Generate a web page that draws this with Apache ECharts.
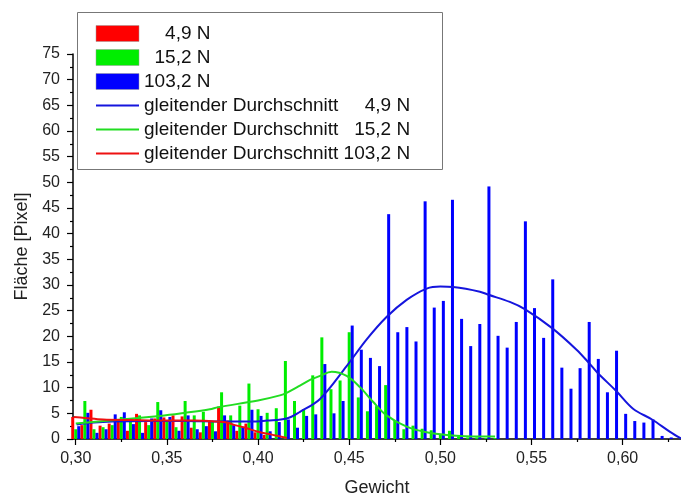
<!DOCTYPE html>
<html><head><meta charset="utf-8">
<script src="https://cdn.jsdelivr.net/npm/echarts@6/dist/echarts.min.js"></script>
<style>html,body{margin:0;padding:0;background:#fff}#c{width:681px;height:502px}</style>
</head><body><div id="c"></div>
<script>
// Bin centres (Gewicht)
const bins = [0.300,0.305,0.310,0.315,0.320,0.325,0.330,0.335,0.340,0.345,
  0.350,0.355,0.360,0.365,0.370,0.375,0.380,0.385,0.390,0.395,
  0.400,0.405,0.410,0.415,0.420,0.425,0.430,0.435,0.440,0.445,
  0.450,0.455,0.460,0.465,0.470,0.475,0.480,0.485,0.490,0.495,
  0.500,0.505,0.510,0.515,0.520,0.525,0.530,0.535,0.540,0.545,
  0.550,0.555,0.560,0.565,0.570,0.575,0.580,0.585,0.590,0.595,
  0.600,0.605,0.610,0.615,0.620,0.625];
// Fläche values per series (null = no bar)
const red49 = [4.3,2.7,5.7,2.6,3.0,3.6,1.6,4.9,3.3,4.0,
  4.2,4.6,4.4,2.2,1.3,3.3,6.3,3.6,1.6,3.0,
  1.3,0.8];
const green152 = [1.9,7.4,1.9,2.3,2.7,4.3,4.0,4.6,2.7,7.2,
  3.6,2.3,7.4,4.6,5.3,3.3,9.1,4.6,6.5,10.8,
  5.8,5.1,6.0,15.2,7.4,5.8,12.4,19.8,9.7,11.4,
  20.8,8.1,5.4,6.4,10.5,3.6,1.9,2.6,2.0,1.7,
  0.8,1.6,0.5,0.3,0.3,0.2,0.2];
const blue1032 = [2.5,5.1,1.2,1.9,4.8,5.2,2.9,1.2,4.0,5.6,
  4.3,1.6,4.6,1.9,2.5,1.5,4.6,2.7,2.4,5.7,
  4.5,1.5,3.3,3.8,2.2,4.5,4.8,14.6,5.0,7.4,
  22.1,17.4,15.8,14.2,43.8,20.8,21.8,19.0,46.3,25.6,
  26.9,46.6,23.4,18.1,22.4,49.2,20.1,17.8,22.8,42.4,
  25.5,19.7,31.1,13.9,9.8,13.8,22.8,15.6,9.1,17.2,
  4.9,3.5,3.2,3.8,0.6,0.3];
// Moving averages
const avgBlueX = [0.3005,0.310,0.320,0.340,0.360,0.380,0.395,0.405,0.4157,0.423,0.434,0.4486,0.4596,0.4706,0.4815,0.4925,0.500,0.507,0.5217,0.5264,0.5381,0.5463,0.5613,0.5747,0.5813,0.5862,0.5966,0.6057,0.6161,0.626,0.632];
const avgBlueY = [2.8,3.2,3.4,3.5,3.5,3.4,3.4,3.6,4.0,5.3,7.8,14.2,19.4,23.8,27.1,29.3,29.7,29.6,28.7,28.1,26.7,25.3,21.6,17.4,14.9,12.9,9.3,5.9,3.8,1.4,0.1];
const avgGreenX = [0.300,0.3462,0.3599,0.3736,0.378,0.400,0.412,0.4157,0.423,0.4285,0.434,0.4404,0.4486,0.4559,0.4632,0.4705,0.4815,0.4924,0.5034,0.5217,0.530];
const avgGreenY = [3.0,4.5,5.1,5.8,6.2,7.5,8.5,9.0,10.4,11.5,12.3,13.1,12.3,10.1,7.2,4.6,2.4,1.3,0.8,0.5,0.5];
const avgRedX = [0.299,0.305,0.315,0.330,0.350,0.365,0.378,0.383,0.3873,0.393,0.400,0.408,0.4158];
const avgRedY = [4.3,4.1,3.8,3.7,3.6,3.6,3.4,3.2,2.7,2.2,1.4,0.8,0.2];
const xMajor = [0.30,0.35,0.40,0.45,0.50,0.55,0.60];
const xMinor = [0.325,0.375,0.425,0.475,0.525,0.575,0.625];

const pairs = (xs, ys) => ys.map((y, i) => (y == null ? null : [xs[i], y])).filter(Boolean);
const FONT = 'Liberation Sans, Arial, Helvetica, sans-serif';
const legendText = {
  '4,9 N': '    4,9 N',
  '15,2 N': '  15,2 N',
  '103,2 N': '103,2 N',
  'gleitender Durchschnitt 4,9 N': 'gleitender Durchschnitt     4,9 N',
  'gleitender Durchschnitt 15,2 N': 'gleitender Durchschnitt   15,2 N',
  'gleitender Durchschnitt 103,2 N': 'gleitender Durchschnitt 103,2 N'
};
const fmt = v => v.toFixed(2).replace('.', ',');

const chart = echarts.init(document.getElementById('c'), null, {renderer: 'canvas'});
const barCommon = {type: 'bar', barWidth: 3, barGap: '0%', animation: false, clip: true};
const lineCommon = {type: 'line', smooth: 0.35, symbol: 'none', showSymbol: false, animation: false, z: 5};
const hideSym = {opacity: 0};
chart.setOption({
  backgroundColor: '#ffffff',
  animation: false,
  grid: {left: 73, right: 0, top: 54, bottom: 58},
  graphic: [{type: 'rect', z: 1, shape: {x: 77.5, y: 12.5, width: 365, height: 157},
    style: {fill: '#ffffff', stroke: '#777777', lineWidth: 1}}],
  legend: {
    orient: 'vertical', left: 95, top: 24, itemWidth: 43, itemHeight: 16, itemGap: 5,
    padding: 0, z: 10, selectedMode: false,
    textStyle: {fontFamily: FONT, fontSize: 19, color: '#111111'},
    formatter: n => legendText[n] || n,
    data: [
      {name: '4,9 N', icon: 'rect', itemStyle: {borderColor: '#999', borderWidth: 0.5}},
      {name: '15,2 N', icon: 'rect', itemStyle: {borderColor: '#999', borderWidth: 0.5}},
      {name: '103,2 N', icon: 'rect', itemStyle: {borderColor: '#999', borderWidth: 0.5}},
      {name: 'gleitender Durchschnitt 4,9 N', itemStyle: hideSym},
      {name: 'gleitender Durchschnitt 15,2 N', itemStyle: hideSym},
      {name: 'gleitender Durchschnitt 103,2 N', itemStyle: hideSym}
    ]
  },
  xAxis: [{
    type: 'value', min: 0.2985, max: 0.632, position: 'bottom',
    name: 'Gewicht', nameLocation: 'middle', nameGap: 40,
    nameTextStyle: {fontFamily: FONT, fontSize: 18, color: '#222'},
    axisLine: {show: true, lineStyle: {color: '#000', width: 1.5}},
    axisTick: {show: true, customValues: xMajor, length: 6, lineStyle: {color: '#000', width: 1.2}},
    axisLabel: {customValues: xMajor, formatter: fmt, margin: 12,
      fontFamily: FONT, fontSize: 16, color: '#222'},
    splitLine: {show: false}
  }, {
    type: 'value', min: 0.2985, max: 0.632, position: 'bottom',
    axisLine: {show: false},
    axisTick: {show: true, customValues: xMinor, length: 3, lineStyle: {color: '#000', width: 1.2}},
    axisLabel: {show: false, customValues: xMinor},
    splitLine: {show: false}
  }],
  yAxis: {
    type: 'value', min: 0, max: 75, interval: 5,
    name: 'Fläche [Pixel]', nameLocation: 'middle', nameGap: 41,
    nameTextStyle: {fontFamily: FONT, fontSize: 18, color: '#222'},
    axisLine: {show: true, lineStyle: {color: '#000', width: 1.5}},
    axisTick: {show: true, length: 6, lineStyle: {color: '#000', width: 1.2}},
    minorTick: {show: true, splitNumber: 2, length: 3, lineStyle: {color: '#000', width: 1.2}},
    axisLabel: {margin: 13, fontFamily: FONT, fontSize: 16, color: '#222'},
    splitLine: {show: false}
  },
  series: [
    Object.assign({}, barCommon, {name: '4,9 N', itemStyle: {color: '#ff0000'}, data: pairs(bins, red49)}),
    Object.assign({}, barCommon, {name: '15,2 N', itemStyle: {color: '#00ee00'}, data: pairs(bins, green152)}),
    Object.assign({}, barCommon, {name: '103,2 N', itemStyle: {color: '#0000ff'}, data: pairs(bins, blue1032)}),
    Object.assign({}, lineCommon, {name: 'gleitender Durchschnitt 4,9 N', itemStyle: {color: '#1515dd'}, lineStyle: {color: '#1515dd', width: 2}, data: pairs(avgBlueX, avgBlueY)}),
    Object.assign({}, lineCommon, {name: 'gleitender Durchschnitt 15,2 N', itemStyle: {color: '#22dd22'}, lineStyle: {color: '#22dd22', width: 2}, data: pairs(avgGreenX, avgGreenY)}),
    Object.assign({}, lineCommon, {name: 'gleitender Durchschnitt 103,2 N', itemStyle: {color: '#ee1111'}, lineStyle: {color: '#ee1111', width: 2}, data: pairs(avgRedX, avgRedY)})
  ]
});
</script></body></html>
